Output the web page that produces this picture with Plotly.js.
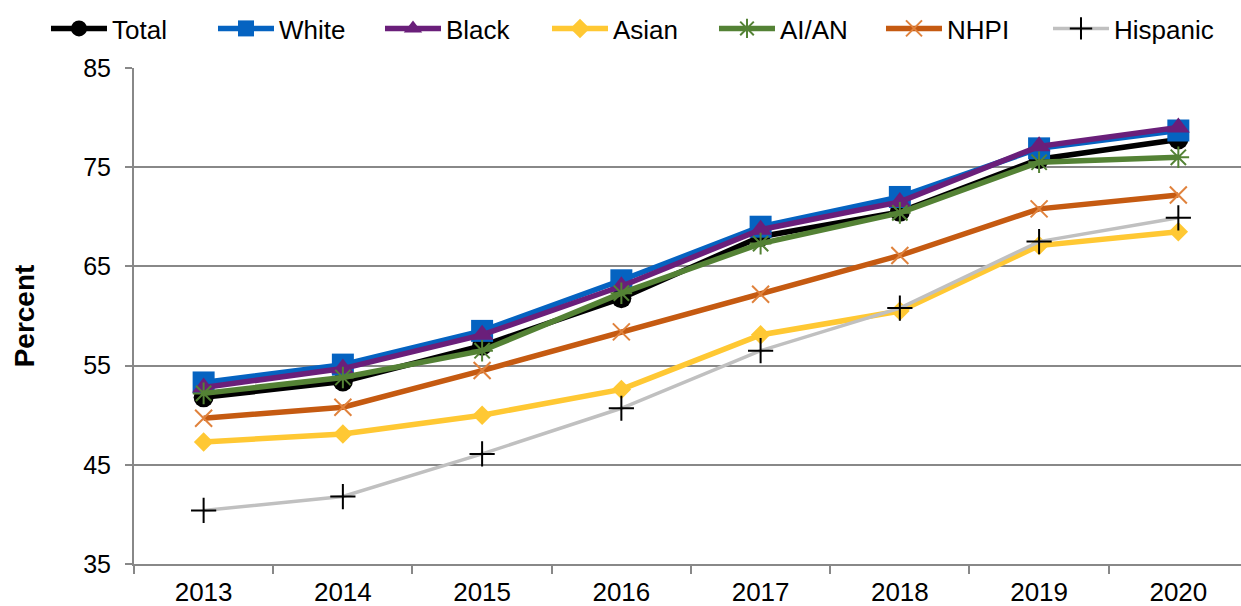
<!DOCTYPE html>
<html>
<head>
<meta charset="utf-8">
<script src="https://cdn.plot.ly/plotly-3.0.1.min.js"></script>
<style>html,body{margin:0;padding:0;background:#fff}#chart{width:1241px;height:606px}</style>
</head>
<body>
<div id="chart"></div>
<script>
const years = ["2013","2014","2015","2016","2017","2018","2019","2020"];
const total    = [51.8, 53.4, 57.0, 61.8, 68.0, 70.5, 75.8, 77.8];
const white    = [53.3, 55.1, 58.5, 63.6, 69.0, 72.0, 76.9, 78.7];
const black    = [52.8, 54.7, 58.1, 63.0, 68.7, 71.5, 77.1, 79.0];
const asian    = [47.3, 48.1, 50.0, 52.6, 58.1, 60.5, 67.1, 68.5];
const aian     = [52.2, 53.8, 56.5, 62.3, 67.3, 70.4, 75.5, 76.0];
const nhpi     = [49.7, 50.8, 54.5, 58.4, 62.2, 66.1, 70.8, 72.2];
const hispanic = [40.4, 41.8, 46.1, 50.7, 56.5, 60.8, 67.5, 69.9];

function tr(name, y, lineColor, lw, sym, msize, mColor, mLine) {
  const marker = {symbol: sym, size: msize, color: mColor};
  if (mLine) marker.line = mLine;
  return {x: years, y: y, name: name, type: 'scatter', mode: 'lines+markers',
          line: {color: lineColor, width: lw}, marker: marker};
}
const data = [
  tr('Total', total, '#000000', 5.5, 'circle', 20, '#000000'),
  tr('White', white, '#0563C1', 5.5, 'square', 22, '#0563C1'),
  tr('Black', black, '#6A1F7A', 5.5, 'triangle-up', 20, '#6A1F7A'),
  tr('Asian', asian, '#FFC833', 5.5, 'diamond', 15, '#FFC833'),
  tr('AI/AN', aian, '#548235', 5.5, 'asterisk-open', 18, '#548235', {color:'#548235', width:2}),
  tr('NHPI', nhpi, '#C55A11', 5.5, 'x-thin-open', 17, '#E0823C', {color:'#E0823C', width:2}),
  tr('Hispanic', hispanic, '#C0C0C0', 3.5, 'cross-thin-open', 18, '#000000', {color:'#000000', width:2})
];
const layout = {
  width: 1241, height: 606,
  margin: {l: 134, r: 0, t: 68, b: 42, autoexpand: false},
  paper_bgcolor: '#ffffff', plot_bgcolor: '#ffffff',
  font: {family: 'Liberation Sans, Arial, sans-serif', color: '#000000'},
  showlegend: true,
  legend: {orientation: 'h', x: -0.0795, y: 1.127, xref: 'paper', yref: 'paper',
           xanchor: 'left', yanchor: 'top', font: {size: 26},
           itemwidth: 56, entrywidth: 96, entrywidthmode: 'pixels', bgcolor: 'rgba(0,0,0,0)'},
  xaxis: {type: 'category', range: [-0.5, 7.45], showgrid: false, zeroline: false,
          showline: true, linecolor: '#888888', linewidth: 2,
          ticks: 'outside', tickson: 'boundaries', ticklen: 8, tickcolor: '#888888', tickwidth: 2,
          ticklabelstandoff: 4, tickfont: {size: 26}},
  yaxis: {range: [35, 85], dtick: 10, tick0: 35, showgrid: true, gridcolor: '#888888', gridwidth: 2,
          zeroline: false, showline: true, linecolor: '#888888', linewidth: 2,
          ticks: 'outside', ticklen: 7, tickcolor: '#888888', tickwidth: 2,
          ticklabelstandoff: 9, tickfont: {size: 25},
          title: {text: '<b>Percent</b>', font: {size: 28}, standoff: 40}}
};
Plotly.newPlot('chart', data, layout, {displayModeBar: false, staticPlot: true});
</script>
</body>
</html>
